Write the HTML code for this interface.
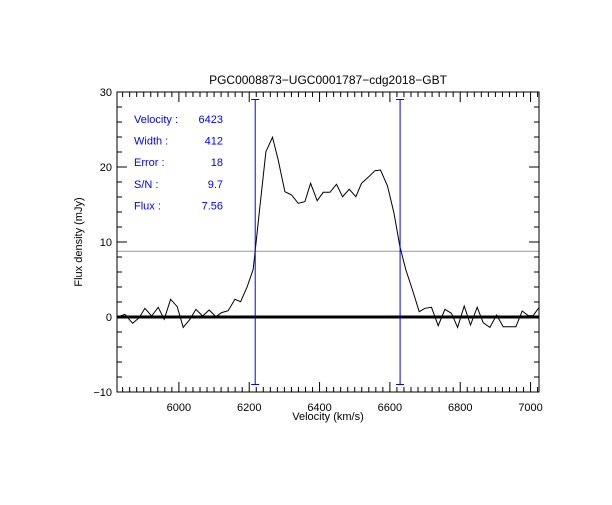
<!DOCTYPE html>
<html><head><meta charset="utf-8"><style>
body{margin:0;background:#fff;}
svg text{font-family:"Liberation Sans",sans-serif;}
</style></head><body>
<svg id="chart" width="612" height="500" xmlns="http://www.w3.org/2000/svg">
<rect width="612" height="500" fill="#fff"/>
</svg>
<script>
const velocities=[5822.8,5846.5,5868.3,5887.2,5903.3,5922.3,5941.2,5958.3,5976.3,5995.3,6012.3,6031.3,6048.3,6067.3,6086.2,6105.2,6121.3,6140.3,6159.2,6175.4,6194.3,6211.4,6230.3,6247.4,6266.3,6282.4,6301.4,6320.4,6339.3,6358.3,6374.4,6393.3,6410.4,6429.3,6448.3,6465.4,6484.4,6503.3,6519.4,6538.3,6557.3,6573.4,6593.3,6611.3,6628.4,6645.4,6664.4,6683.4,6699.5,6718.4,6737.4,6756.4,6775.3,6792.4,6811.3,6829.3,6848.3,6865.3,6884.3,6903.3,6922.2,6940.2,6958.2,6976.2,6993.3,7007.5,7023.6];
const fluxes=[-0.04,0.36,-0.84,-0.09,1.16,0.13,1.29,-0.31,2.36,1.38,-1.38,-0.31,1.02,0.13,0.93,0.04,0.58,0.84,2.36,2.04,4.04,6.36,14.71,22.04,23.96,20.93,16.71,16.27,15.16,15.38,17.82,15.51,16.62,16.62,17.69,16.04,17.02,16.04,17.82,18.62,19.51,19.6,17.47,13.91,9.38,6.27,3.6,0.71,1.16,1.29,-1.16,1.02,0.49,-1.38,1.47,-1.07,1.29,-0.76,-1.38,0.27,-1.29,-1.29,-1.29,0.8,0.18,0.18,1.24];
const xTicks=[6000,6200,6400,6600,6800,7000];
const yTicks=[-10,0,10,20,30];
const velLimits=[6217,6629];
const halfLevel=[8.76];
const infoLabels=["Velocity :","Width :","Error :","S/N :","Flux :"];
const infoValues=["6423","412","18","9.7","7.56"];

const L=117,R=539,T=92,B=392,xmin=5824,xmax=7024,ymin=-10,ymax=30;
const sx=v=>L+(v-xmin)/(xmax-xmin)*(R-L);
const sy=f=>B-(f-ymin)/(ymax-ymin)*(B-T);
const svg=document.getElementById('chart');
const NS='http://www.w3.org/2000/svg';
function mk(tag,attrs,parent){const e=document.createElementNS(NS,tag);for(const k in attrs)e.setAttribute(k,attrs[k]);(parent||svg).appendChild(e);return e;}

// clip
const defs=mk('defs',{});const cp=mk('clipPath',{id:'pc'},defs);mk('rect',{x:L,y:T,width:R-L,height:B-T},cp);

// ticks
for(let v=5840;v<=7020;v+=20){const x=sx(v);const major=v%200===0;const len=major?10:5;
 const t1=mk('line',{x1:x,y1:B,x2:x,y2:B-len,stroke:'#000'});
 
 
 mk('line',{x1:x,y1:T,x2:x,y2:T+len,stroke:'#000'});}
for(let f=-10;f<=30;f+=2){const y=sy(f);const major=f%10===0;const len=major?10:5;
 const t=mk('line',{x1:L,y1:y,x2:L+len,y2:y,stroke:'#000'});
 
 
 mk('line',{x1:R,y1:y,x2:R-len,y2:y,stroke:'#000'});}
xTicks.forEach(v=>{const t=mk('text',{x:sx(v),y:B+19,'font-size':11,'text-anchor':'middle'});t.textContent=v;
 
 });
yTicks.forEach(f=>{const t=mk('text',{x:L-5,y:sy(f)+4,'font-size':11,'text-anchor':'end'});t.textContent=f===-10?'\u221210':f;
 
 });

// zero line
const z=mk('line',{x1:L,y1:sy(0),x2:R,y2:sy(0),stroke:'#000','stroke-width':3});


// half level
halfLevel.forEach(h=>{const l=mk('line',{x1:L,y1:sy(h),x2:R,y2:sy(h),stroke:'#999','stroke-width':1});
 
 });
// spectrum
const pts=velocities.map((v,i)=>sx(v).toFixed(1)+','+sy(fluxes[i]).toFixed(1)).join(' ');
const pl=mk('polyline',{points:pts,fill:'none',stroke:'#000','stroke-width':1,'clip-path':'url(#pc)'});


// velocity limits
velLimits.forEach(v=>{const x=sx(v);const g=mk('g',{stroke:'#0000ff','stroke-width':1});
 
 
 mk('line',{x1:x,y1:sy(29),x2:x,y2:sy(-9)},g);
 mk('line',{x1:x-4,y1:sy(29),x2:x+4,y2:sy(29)},g);
 mk('line',{x1:x-4,y1:sy(-9),x2:x+4,y2:sy(-9)},g);});
// frame
const fr=mk('rect',{x:L,y:T,width:R-L,height:B-T,fill:'none',stroke:'#000'});


// info
infoLabels.forEach((s,i)=>{const y=123+i*21.6;
 const a=mk('text',{x:134,y:y,'font-size':11,fill:'#0000ff'});a.textContent=s;
 
 
 const b=mk('text',{x:223,y:y,'font-size':11,fill:'#0000ff','text-anchor':'end'});b.textContent=infoValues[i];
 
 });
// titles
const ti=mk('text',{x:328,y:84,'font-size':12,'text-anchor':'middle'});ti.textContent='PGC0008873\u2212UGC0001787\u2212cdg2018\u2212GBT';


const xt=mk('text',{x:328,y:420,'font-size':11,'text-anchor':'middle'});xt.textContent='Velocity (km/s)';


const yt=mk('text',{x:0,y:0,'font-size':11,'text-anchor':'middle',transform:'translate(82,242) rotate(-90)'});yt.textContent='Flux density (mJy)';


</script>
</body></html>
